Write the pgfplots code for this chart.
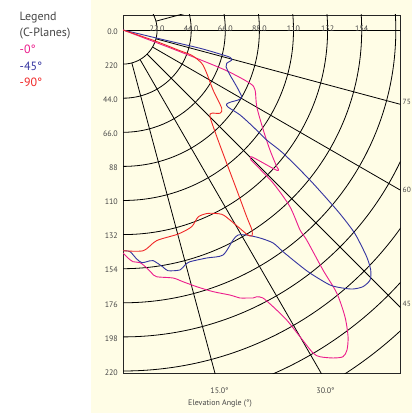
\documentclass[border=0pt]{standalone}
\usepackage{fontspec}
\setmainfont{PT Sans}
\usepackage{pgfplots}
\pgfplotsset{compat=1.18}

\definecolor{beige}{RGB}{255,253,230}
\definecolor{txtgray}{RGB}{70,70,70}
\definecolor{pinkc}{RGB}{236,28,140}
\definecolor{bluec}{RGB}{52,52,160}
\definecolor{redc}{RGB}{240,40,40}

\begin{document}
\begin{tikzpicture}[x=1bp,y=1bp]
% page and chart background
\fill[white] (0,0) rectangle (412,-414);
\fill[beige] (91,0) rectangle (412,-413);

\begin{axis}[
    at={(123bp,-373bp)}, anchor=south west,
    x=1.55bp, y=1.55bp,
    xmin=0, xmax=179, ymin=-221.3, ymax=9.7,
    ticks=none,
    axis line style={draw=black!85, line width=0.9bp},
    clip=true,
]
% polar grid: circles every 22 units
\pgfplotsinvokeforeach{1,...,13}{
    \draw[black, line width=0.8bp] (axis cs:0,0) circle[radius=22*#1];
}
% radial lines every 15 degrees (elevation from the downward vertical)
\pgfplotsinvokeforeach{15,30,45,60,75,105}{
    \draw[black, line width=0.8bp] (axis cs:{22*sin(#1)},{-22*cos(#1)}) -- (axis cs:{400*sin(#1)},{-400*cos(#1)});
}
\draw[black, line width=0.8bp] (axis cs:0,0) -- (axis cs:200,0);

% C-plane 0
\addplot[pinkc, line width=0.9bp, smooth, tension=0.45] coordinates {
(0,0) (35.5,-13.5) (65.8,-25.8) (81.9,-34.4) (85.2,-38.7) (86.3,-49.5)
(90.5,-64.5) (94.8,-77.4) (99.2,-88.2) (100.2,-89.7) (98.7,-90.3)
(83.2,-81.9) (82.6,-83.9) (83.9,-85.2) (96.8,-98.7) (107.7,-114.0)
(114.2,-129.0) (118.5,-135.5) (129.0,-154.8) (137.9,-169.7) (143.2,-185.0)
(145.2,-197.9) (144.5,-206.5) (141.9,-210.8) (135.5,-211.6) (127.1,-210.8)
(122.6,-208.4) (114.2,-197.9) (105.6,-187.1) (96.8,-178.5) (90.3,-172.9)
(86.3,-172.1) (83.9,-172.9) (79.8,-172.9) (75.5,-172.9) (69.0,-171.0)
(58.1,-168.8) (47.5,-165.6) (38.7,-162.4) (32.3,-160.0) (21.7,-159.2)
(18.5,-156.8) (15.3,-153.5) (11.0,-150.1) (6.5,-149.5) (3.2,-147.1) (0,-143.9)
};
% C-plane 45
\addplot[bluec, line width=0.9bp, smooth, tension=0.45] coordinates {
(0,0) (25,-6) (49.7,-11.8) (64.5,-16.1) (69.0,-17.6) (70.1,-19.4)
(66.9,-21.5) (66.5,-23.7) (69.0,-29.0) (73.4,-36.6) (76.6,-43.2)
(74.2,-45.2) (70.1,-46.3) (66.9,-47.7) (67.7,-49.7) (75.5,-54.8)
(83.9,-62.4) (92.7,-71.0) (103.2,-79.4) (120.6,-96.8) (137.9,-116.1)
(146.5,-126.9) (150.8,-133.4) (157.2,-146.3) (159.8,-154.8) (159.4,-161.3)
(154.8,-165.6) (148.4,-167.1) (141.9,-166.5) (133.5,-164.5) (120.6,-156.8)
(112.1,-150.3) (103.2,-143.0) (96.8,-137.4) (88.4,-134.2) (79.8,-132.3)
(74.2,-132.3) (71.0,-135.5) (64.5,-145.2) (54.0,-147.1) (43.2,-149.5)
(40.0,-151.6) (36.8,-154.8) (29.0,-155.3) (25.8,-152.9) (19.4,-148.8)
(15.3,-149.5) (12.1,-150.1) (8.8,-147.7) (4.5,-143.0) (0,-142.4)
};
% C-plane 90
\addplot[redc, line width=0.9bp, smooth, tension=0.45] coordinates {
(0,0) (20,-6.8) (35.5,-12.9) (44.3,-16.3) (50.8,-21.5) (54.0,-27.9)
(58.1,-38.7) (63.7,-50.5) (62.6,-53.7) (57.2,-53.7) (56.1,-55.9)
(60.5,-68.8) (66.9,-86.0) (73.4,-103.2) (79.8,-120.5) (83.2,-129.0)
(83.2,-132.9) (80.6,-132.3) (76.6,-129.0) (69.0,-122.6) (63.7,-118.9)
(55.0,-118.3) (48.6,-120.5) (44.3,-126.9) (35.7,-131.6) (21.7,-135.9)
(13.1,-142.4) (0,-142.4)
};
\end{axis}

% legend text
\begin{scope}[every node/.style={anchor=base west, inner sep=0pt, font=\fontsize{12}{14}\selectfont}]
\node[text=txtgray] at (19.5,-20) {Legend};
\node[text=txtgray] at (19.5,-36.5) {(C-Planes)};
\node[text=pinkc] at (19.5,-53) {-0°};
\node[text=bluec] at (19.5,-70) {-45°};
\node[text=redc] at (19.5,-86.5) {-90°};
\end{scope}

% tick labels
\begin{scope}[every node/.style={inner sep=0pt, text=txtgray, font=\fontsize{8}{9.6}\selectfont}]
\foreach \lab [count=\i from 0] in {0.0,220,44.0,66.0,88,110,132,154,176,198,220}
  \node[anchor=east] at (118,{-30-34.1*\i-1.5}) {\lab};
\foreach \lab [count=\i from 1] in {22.0,44.0,66.0,88.0,110,132,154}
  \node[anchor=base] at ({123+34.1*\i},-31) {\lab};
\node[anchor=base] at (219.5,-393) {15.0°};
\node[anchor=base] at (325.5,-393) {30.0°};
\node[anchor=base] at (220,-405) {Elevation Angle (°)};
\end{scope}
\begin{scope}[every node/.style={inner sep=0pt, text=txtgray, font=\fontsize{7.5}{9}\selectfont}]
\node[anchor=west] at (402.5,-102) {75};
\node[anchor=west] at (402.5,-190) {60};
\node[anchor=west] at (402.5,-304) {45};
\end{scope}

\pgfresetboundingbox
\path[use as bounding box] (0,0) rectangle (412,-414);
\end{tikzpicture}
\end{document}
